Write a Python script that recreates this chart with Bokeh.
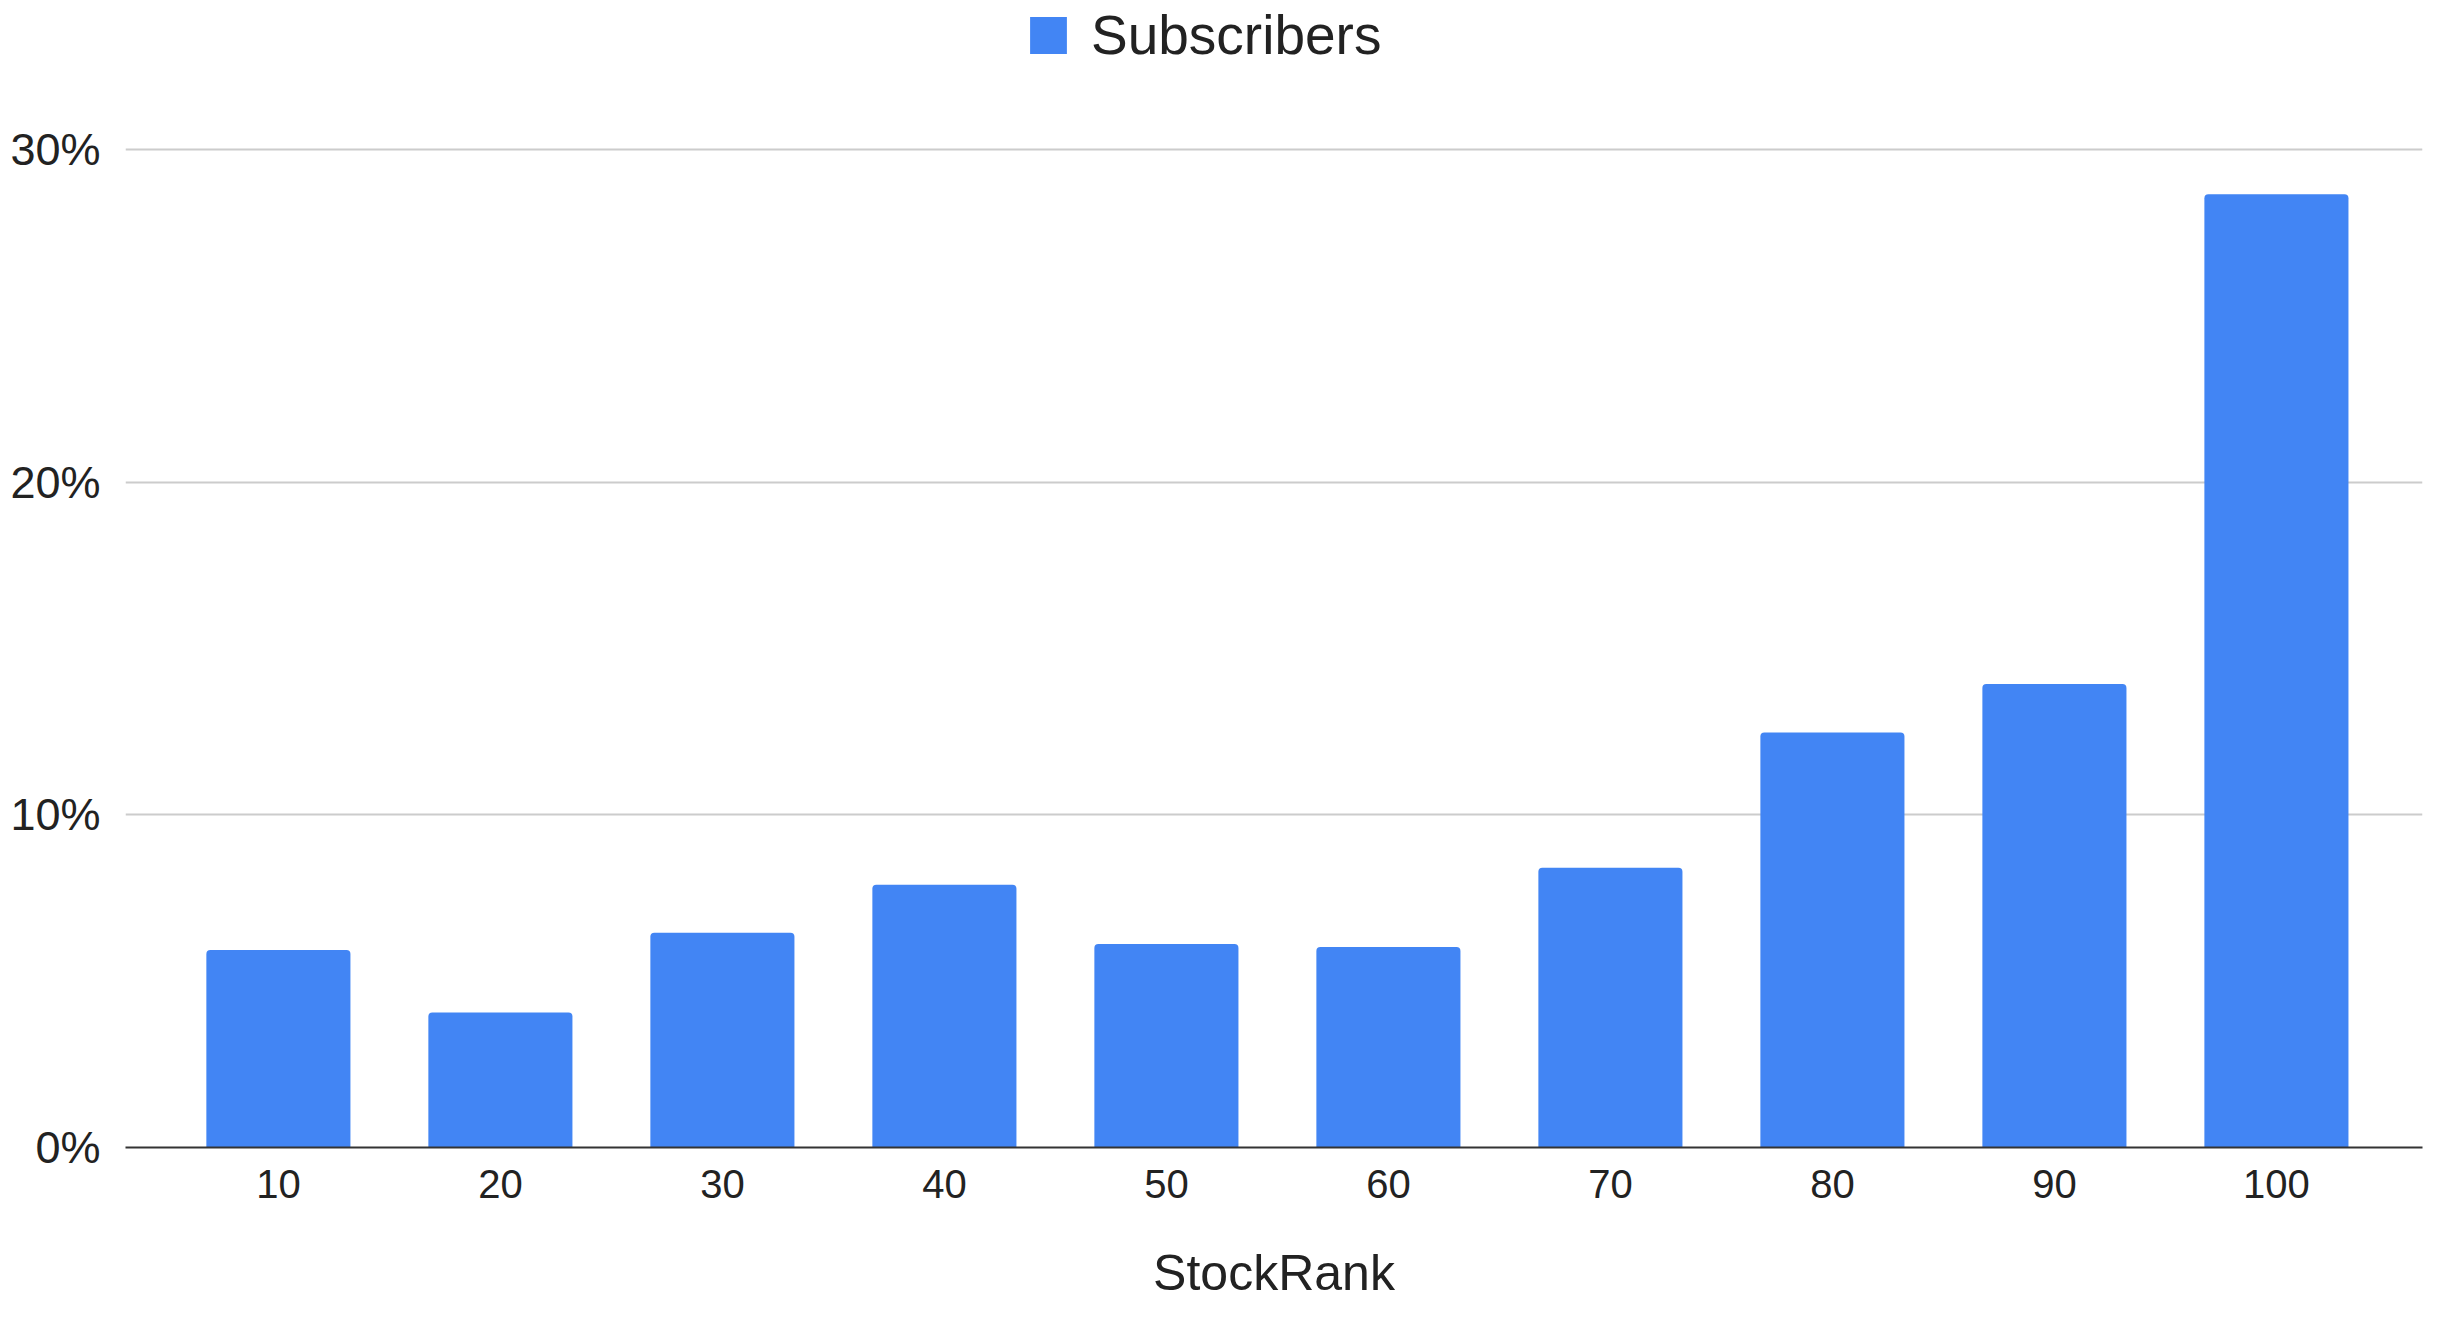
from bokeh.plotting import figure
from bokeh.models import (Range1d, FixedTicker, PrintfTickFormatter, Legend,
                          LegendItem, ColumnDataSource)
from bokeh.embed import file_html
from bokeh.resources import INLINE

# ---- data ----
ranks = [10, 20, 30, 40, 50, 60, 70, 80, 90, 100]
subscribers = [5.94, 4.06, 6.46, 7.90, 6.12, 6.03, 8.41, 12.48, 13.94, 28.67]  # percent
y_ticks = [0, 10, 20, 30]
series_name = "Subscribers"
x_title = "StockRank"

FONT = "Liberation Sans"
BLUE = "#4285F4"
TEXT = "#222222"

src = ColumnDataSource(dict(rank=ranks, value=subscribers))

p = figure(width=2424, height=1314, output_backend="svg", toolbar_location=None,
           x_range=Range1d(3.113, 106.58), y_range=Range1d(0, 34.496),
           min_border_left=125, min_border_right=2, min_border_top=0,
           min_border_bottom=167, title=None)
p.outline_line_color = None
p.background_fill_color = "white"
p.border_fill_color = "white"

r = p.vbar(x="rank", top="value", bottom=0, width=6.49, source=src,
           fill_color=BLUE, line_color=None, border_radius=(4, 4, 0, 0))

# x axis
xa = p.xaxis[0]
xa.ticker = FixedTicker(ticks=ranks)
xa.major_tick_in = 0
xa.major_tick_out = 0
xa.major_tick_line_color = None
xa.minor_tick_line_color = None
xa.axis_line_color = "#333333"
xa.axis_line_width = 2
xa.major_label_text_font = FONT
xa.major_label_text_font_size = "40px"
xa.major_label_text_color = TEXT
xa.major_label_standoff = 22
xa.axis_label = x_title
xa.axis_label_text_font = FONT
xa.axis_label_text_font_size = "50px"
xa.axis_label_text_font_style = "normal"
xa.axis_label_text_color = TEXT
xa.axis_label_standoff = 44

# y axis
ya = p.yaxis[0]
ya.ticker = FixedTicker(ticks=y_ticks)
ya.formatter = PrintfTickFormatter(format="%d%%")
ya.major_tick_in = 0
ya.major_tick_out = 0
ya.major_tick_line_color = None
ya.minor_tick_line_color = None
ya.axis_line_color = None
ya.major_label_text_font = FONT
ya.major_label_text_font_size = "45px"
ya.major_label_text_color = TEXT
ya.major_label_standoff = 25

p.xgrid.grid_line_color = None
p.ygrid.ticker = FixedTicker(ticks=y_ticks)
p.ygrid.grid_line_color = "#cccccc"
p.ygrid.grid_line_width = 2

legend = Legend(items=[LegendItem(label=series_name, renderers=[r])],
                location=(900, 1080), orientation="horizontal",
                padding=0, margin=0, spacing=0,
                glyph_width=46, glyph_height=46, label_height=46,
                label_standoff=20,
                label_text_font=FONT, label_text_font_size="55px",
                label_text_color=TEXT,
                border_line_color=None, background_fill_alpha=0)
p.add_layout(legend, "center")

open("out.html", "w").write(file_html(p, INLINE))
